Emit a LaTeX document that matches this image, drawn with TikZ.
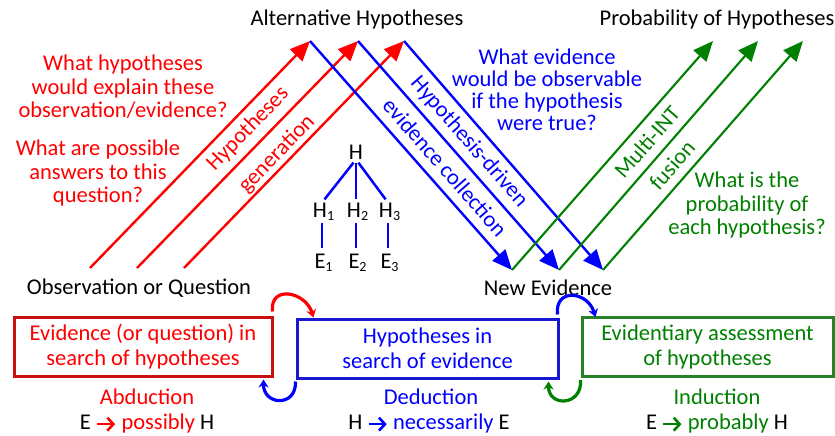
\documentclass[tikz,border=0pt]{standalone}
\usepackage{fontspec}
\setmainfont{Carlito}
\usetikzlibrary{arrows.meta,calc}
\definecolor{cred}{RGB}{255,0,0}
\definecolor{cblue}{RGB}{0,0,255}
\definecolor{cgreen}{RGB}{0,128,0}
\definecolor{bred}{RGB}{200,16,16}
\definecolor{bblue}{RGB}{24,24,210}
\definecolor{bgreen}{RGB}{40,128,40}
% thick "implies" arrow used in the rule lines
\newcommand{\thenarrow}[1]{\tikz[baseline=-0.45ex]\draw[#1,line width=2.6pt,-{Straight Barb[length=6pt,width=13pt,line width=2.6pt]}] (0pt,0pt)--(18pt,0pt);}
% subscripted letter whose node width is the letter only
\newcommand{\sub}[2]{#1\rlap{\raisebox{-0.3ex}{\fontsize{14}{14}\selectfont #2}}}
\begin{document}
\begin{tikzpicture}[x=1pt,y=-1pt,
  every node/.style={font=\fontsize{22.5}{23.5}\selectfont, align=center, inner sep=0pt},
  bigarrow/.style={line width=2.4pt, -{Triangle[length=20pt,width=17pt]}},
  chainbox/.style={draw, line width=3pt, minimum height=59pt, font=\fontsize{22.5}{25.5}\selectfont},
  linkarc/.style={line width=3.2pt, -{Stealth[length=8pt,width=10pt]}},
  treeline/.style={cblue, line width=2.5pt},
  treeletter/.style={text height=14.5pt, text depth=0pt}]
\useasboundingbox (0,0) rectangle (835,436);

% end points of the reasoning arrows
\coordinate (q1) at (90,268);  \coordinate (q2) at (137,268);  \coordinate (q3) at (184,268);
\coordinate (a1) at (310,41);  \coordinate (a2) at (358,41);   \coordinate (a3) at (404,41);
\coordinate (n1) at (512,270); \coordinate (n2) at (559,270);  \coordinate (n3) at (603,270);
\coordinate (p1) at (713,41);  \coordinate (p2) at (758,41);   \coordinate (p3) at (803,41);

% headings
\node (althyp) at (357,20) {Alternative Hypotheses};
\node (probhyp) at (717,20) {Probability of Hypotheses};
\node (obs) at (139,288) {Observation or Question};
\node (newev) at (548,288) {New Evidence};

% abduction arrows
\foreach \i in {1,2,3} \draw[cred, bigarrow] (q\i) -- (a\i);
% deduction arrows
\foreach \i in {1,2,3} \draw[cblue, bigarrow] (a\i) -- (n\i);
% induction arrows
\foreach \i in {1,2,3} \draw[cgreen, bigarrow, line width=2.1pt] (n\i) -- (p\i);

% labels along the arrows
\node[cred, rotate=45.9] (hyplbl) at (248,129) {Hypotheses};
\node[cred, rotate=45.9] (genlbl) at (277,154) {generation};
\node[cblue, rotate=-48.7] (drvlbl) at (469,142) {Hypothesis-driven};
\node[cblue, rotate=-48.7] (collbl) at (445,167) {evidence collection};
\node[cgreen, rotate=48.7] (intlbl) at (647,142) {Multi-INT};
\node[cgreen, rotate=48.7] (fuslbl) at (672,165) {fusion};

% guiding questions
\node[cred] (qexpl) at (123,87) {What hypotheses\\would explain these\\observation/evidence?};
\node[cred] (qans) at (98,173) {What are possible\\answers to this\\question?};
\node[cblue, font=\fontsize{22.5}{22}\selectfont] (qobs) at (547,90) {What evidence\\would be observable\\if the hypothesis\\were true?};
\node[cgreen] (qprob) at (747,205) {What is the\\probability of\\each hypothesis?};

% hypothesis tree
\node[treeletter] (h) at (356,152) {H};
\node[treeletter] (h1) at (320,210) {\sub{H}{1}};
\node[treeletter] (h2) at (354,210) {\sub{H}{2}};
\node[treeletter] (h3) at (386,210) {\sub{H}{3}};
\node[treeletter] (e1) at (320,261) {\sub{E}{1}};
\node[treeletter] (e2) at (354,261) {\sub{E}{2}};
\node[treeletter] (e3) at (386,261) {\sub{E}{3}};
\foreach \i in {1,2,3} {
  \draw[treeline, shorten <=4pt, shorten >=4pt] (h.south) -- ([xshift=2pt]h\i.north);
  \draw[treeline, shorten <=6pt, shorten >=6pt] ([xshift=2pt]h\i.south) -- ([xshift=2pt]e\i.north);
}

% the three linked stages
\node[chainbox, draw=bred, text=cred, minimum width=258pt] (abd) at (143,346.5)
  {Evidence (or question) in\\search of hypotheses};
\node[chainbox, draw=bblue, text=cblue, minimum width=261pt] (ded) at (427.5,348.5)
  {Hypotheses in\\search of evidence};
\node[chainbox, draw=bgreen, text=cgreen, minimum width=251pt] (ind) at (707.5,347)
  {Evidentiary assessment\\of hypotheses};

% links between the stages
\draw[cred, linkarc] ([xshift=-1pt,yshift=4pt]abd.north east) .. controls +(-3,-27) and +(-8,-26) .. ($(ded.north west)+(18,0)$);
\draw[cblue, linkarc] ([yshift=-2pt]ded.south west) .. controls +(1,26) and +(0,26) .. ($(abd.south east)+(-10,2)$);
\draw[cblue, linkarc] ([xshift=-2pt,yshift=3pt]ded.north east) .. controls +(-3,-27) and +(-8,-26) .. ($(ind.north west)+(15,1)$);
\draw[cgreen, linkarc] ([yshift=-2pt]ind.south west) .. controls +(2,26) and +(0,26) .. ($(ded.south east)+(-11,2)$);

% reasoning modes
\node[cred] (abdname) at (147,397) {Abduction};
\node (abdrule) at (147,423) {E \textcolor{cred}{\thenarrow{cred} possibly} H};
\node[cblue] (dedname) at (431,397) {Deduction};
\node (dedrule) at (429,423) {H \textcolor{cblue}{\thenarrow{cblue} necessarily} E};
\node[cgreen] (indname) at (717,397) {Induction};
\node (indrule) at (717,423) {E \textcolor{cgreen}{\thenarrow{cgreen} probably} H};
\end{tikzpicture}
\end{document}
